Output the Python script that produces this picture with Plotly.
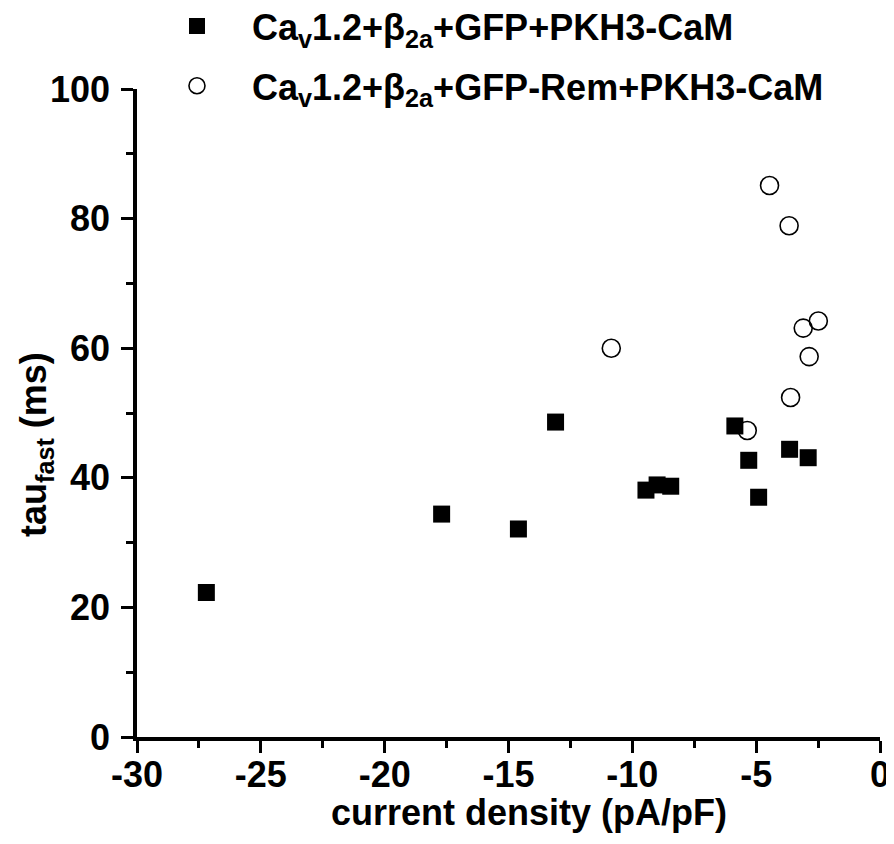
import plotly.graph_objects as go

# Data
ctrl_x = [-27.2, -17.7, -14.6, -13.1, -9.45, -9.0, -8.45, -5.86, -5.3, -4.9, -3.65, -2.9]
ctrl_y = [22.3, 34.4, 32.1, 48.6, 38.1, 38.9, 38.7, 48.0, 42.7, 37.0, 44.4, 43.1]
rem_x = [-10.85, -5.36, -4.46, -3.67, -3.61, -3.1, -2.86, -2.49]
rem_y = [60.0, 47.3, 85.1, 78.9, 52.4, 63.1, 58.7, 64.2]

x_tickvals = [-30, -25, -20, -15, -10, -5, 0]
x_ticktext = ["-30", "-25", "-20", "-15", "-10", "-5", "0"]
y_tickvals = [0, 20, 40, 60, 80, 100]
y_ticktext = ["0", "20", "40", "60", "80", "100"]

ctrl_name = "Ca<sub>v</sub>1.2+β<sub>2a</sub>+GFP+PKH3-CaM"
rem_name = "Ca<sub>v</sub>1.2+β<sub>2a</sub>+GFP-Rem+PKH3-CaM"
x_title = "current density (pA/pF)"
y_title = "tau<sub>fast</sub> (ms)"

FONT = "Liberation Sans, Arial, sans-serif"

# page body adds an 8px offset; figure sized so the plot lands where the reference has it
W, H = 886, 836
L, R, T, B = 129, 14, 81, 107
PW, PH = W - L - R, H - T - B

fig = go.Figure()
fig.add_trace(go.Scatter(
    x=ctrl_x, y=ctrl_y, mode="markers", name=ctrl_name, legendgroup="a",
    marker=dict(symbol="square", size=17, color="black", line=dict(width=0)),
))
fig.add_trace(go.Scatter(
    x=rem_x, y=rem_y, mode="markers", name=rem_name, legendgroup="b",
    marker=dict(symbol="circle-open", size=18, color="black", line=dict(width=1.6, color="black")),
))

axis_common = dict(
    showline=True, linecolor="black", linewidth=3.5, mirror=False,
    showgrid=False, zeroline=False, automargin=False,
    ticks="outside", ticklen=12, tickwidth=3, tickcolor="black",
    tickfont=dict(family=FONT, size=36, color="black", weight="bold"),
)

fig.update_xaxes(
    range=[-30, 0], tickvals=x_tickvals, ticktext=x_ticktext, ticklabelstandoff=-9,
    minor=dict(dtick=2.5, tick0=0, ticks="outside", ticklen=7, tickwidth=3, tickcolor="black", showgrid=False),
    **axis_common,
)
fig.update_yaxes(
    range=[0, 100], tickvals=y_tickvals, ticktext=y_ticktext, ticklabelstandoff=4,
    minor=dict(dtick=10, tick0=0, ticks="outside", ticklen=7, tickwidth=3, tickcolor="black", showgrid=False),
    **axis_common,
)

fig.add_annotation(
    text=x_title, xref="paper", yref="paper", x=(529 - 137) / PW, y=-(812 - 737) / PH,
    xanchor="center", yanchor="middle", showarrow=False,
    font=dict(family=FONT, size=36, color="black", weight="bold"),
)
fig.add_annotation(
    text=y_title, xref="paper", yref="paper", x=-(137 - 36) / PW, y=(737 - 445) / PH,
    xanchor="center", yanchor="middle", showarrow=False, textangle=-90,
    font=dict(family=FONT, size=36, color="black", weight="bold"),
)

fig.update_layout(
    width=W, height=H,
    margin=dict(l=L, r=R, t=T, b=B, autoexpand=False),
    paper_bgcolor="white", plot_bgcolor="white",
    showlegend=True,
    legend=dict(
        x=0.0067, y=1.1434, xanchor="left", yanchor="top",
        font=dict(family=FONT, size=36, color="black", weight="bold"),
        bgcolor="rgba(0,0,0,0)", itemwidth=100, tracegroupgap=10,
        traceorder="grouped",
    ),
)

fig.write_html("out.html")
